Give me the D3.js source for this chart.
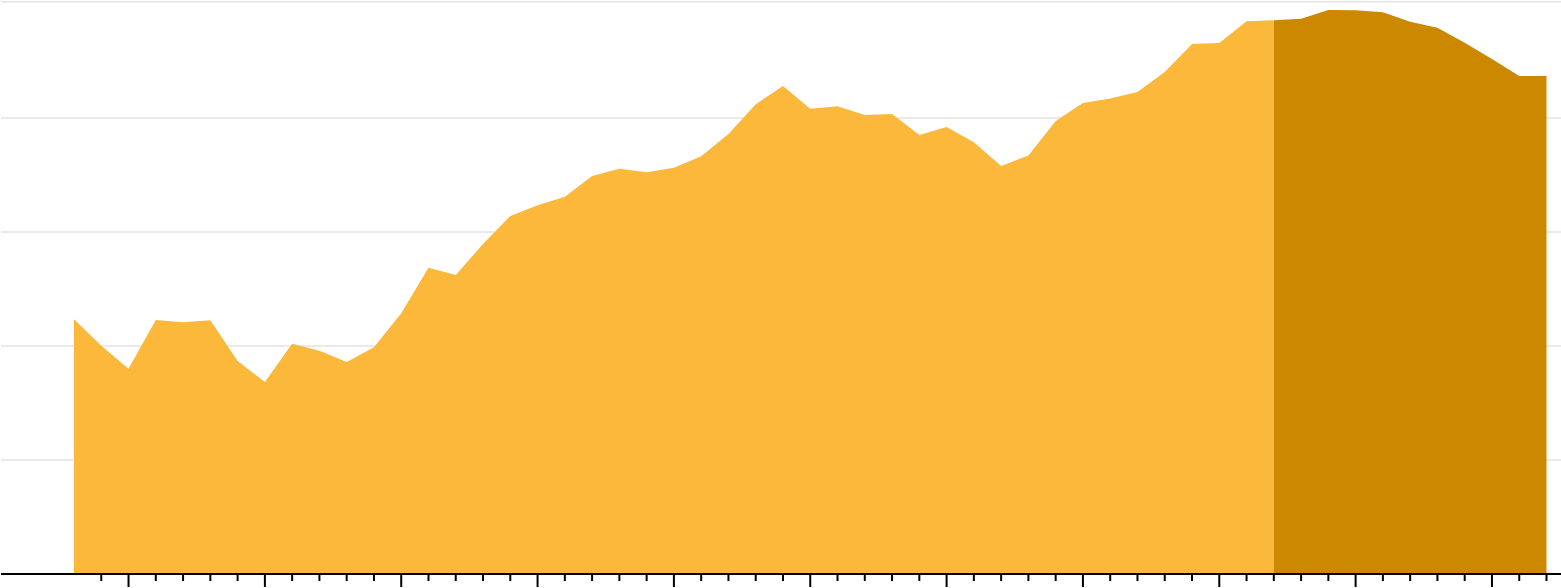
<!DOCTYPE html>
<html>
<head>
<meta charset="utf-8">
<script src="https://cdn.jsdelivr.net/npm/d3@7"></script>
<style>
  body { margin: 0; background: #fff; }
  svg { display: block; }
</style>
</head>
<body>
<div id="chart"></div>
<script>
;(function () {
  // yearly values
  const years = d3.range(1968, 2023)
  const values = [
    22.34, 20.03, 18.01, 22.28, 22.08, 22.25, 18.69, 16.84, 20.20, 19.59,
    18.59, 19.89, 22.87, 26.87, 26.23, 28.95, 31.41, 32.34, 33.09, 34.91,
    35.55, 35.24, 35.64, 36.64, 38.60, 41.21, 42.81, 40.81, 41.03, 40.26,
    40.35, 38.50, 39.21, 37.87, 35.79, 36.70, 39.74, 41.32, 41.70, 42.28,
    44.04, 46.49, 46.58, 48.49, 48.57, 48.71, 49.47, 49.45, 49.27, 48.44,
    47.92, 46.59, 45.18, 43.69, 43.69
  ]
  const splitYear = 2012
  const gridValues = [10, 20, 30, 40, 50]
  const tickYears = d3.range(1969, 2023)

  const width = 1561
  const height = 588
  const baseY = 574

  const svg = d3.select("#chart").append("svg").attr("width", width).attr("height", height)

  const x = d3.scaleLinear().domain([1968, 2022]).range([74, 1546.5])
  const y = d3.scaleLinear().domain([0, 50]).range([baseY, 4])

  const data = years.map((yr, i) => ({ year: yr, value: values[i] }))

  // gridlines (top one sits against the top edge)
  svg
    .selectAll(".grid")
    .data(gridValues)
    .join("line")
    .attr("class", "grid")
    .attr("x1", 1)
    .attr("x2", width)
    .attr("y1", d => Math.min(y(d), 1.7))
    .attr("y2", d => Math.min(y(d), 1.7))
    .attr("y1", d => (y(d) < 10 ? 1.7 : y(d)))
    .attr("y2", d => (y(d) < 10 ? 1.7 : y(d)))
    .attr("stroke", "#e3e3e3")
    .attr("stroke-width", 1.6)

  const area = d3
    .area()
    .x(d => x(d.year))
    .y0(y(0))
    .y1(d => y(d.value))

  svg
    .append("path")
    .datum(data.filter(d => d.year <= splitYear))
    .attr("fill", "#fbb83a")
    .attr("d", area)

  svg
    .append("path")
    .datum(data.filter(d => d.year >= splitYear))
    .attr("fill", "#cc8800")
    .attr("d", area)

  // x axis: minor ticks every year, longer ones every 5 years
  const minor = d3
    .axisBottom(x)
    .tickValues(tickYears.filter(d => d % 5 !== 0))
    .tickSize(7)
    .tickFormat("")
  const major = d3
    .axisBottom(x)
    .tickValues(tickYears.filter(d => d % 5 === 0))
    .tickSize(13)
    .tickFormat("")

  ;[minor, major].forEach(ax => {
    const g = svg.append("g").attr("transform", `translate(-0.5,${baseY})`).call(ax)
    g.select(".domain").remove()
    g.selectAll(".tick line").attr("stroke", "#000").attr("stroke-width", 2)
  })

  svg
    .append("line")
    .attr("x1", 1)
    .attr("x2", width)
    .attr("y1", baseY)
    .attr("y2", baseY)
    .attr("stroke", "#000")
    .attr("stroke-width", 2)
})()
</script>
</body>
</html>
